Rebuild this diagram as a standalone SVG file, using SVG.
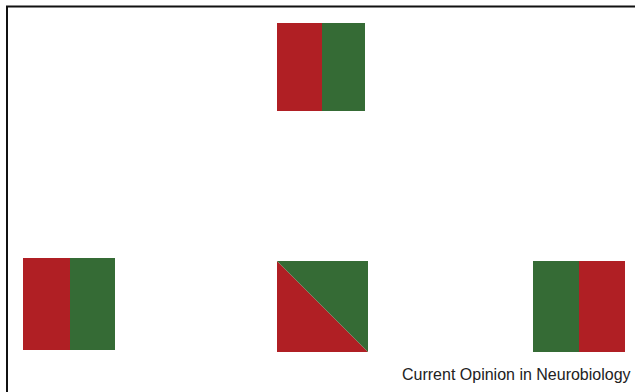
<svg xmlns="http://www.w3.org/2000/svg" width="635" height="392" viewBox="0 0 635 392">
<style>
.r{fill:#B01F24}
.g{fill:#356B35}
.b{stroke:#111;stroke-width:2;fill:none}
.t{font-family:"Liberation Sans",Arial,sans-serif;font-size:16px;fill:#222}
</style>
<rect width="635" height="392" fill="#fff"/>
<path class="b" d="M7 392V6.5H635"/>
<g id="top">
<rect class="r" x="277" y="23" width="45" height="88"/>
<rect class="g" x="322" y="23" width="43" height="88"/>
</g>
<g id="left">
<rect class="r" x="23" y="258" width="47" height="92"/>
<rect class="g" x="70" y="258" width="45" height="92"/>
</g>
<g id="middle">
<polygon class="r" points="277,261 368,352 277,352"/>
<polygon class="g" points="277,261 368,261 368,352"/>
</g>
<g id="right">
<rect class="g" x="533" y="261" width="46" height="91"/>
<rect class="r" x="579" y="261" width="46" height="91"/>
</g>
<text class="t" x="402" y="380">Current Opinion in Neurobiology</text>
</svg>
